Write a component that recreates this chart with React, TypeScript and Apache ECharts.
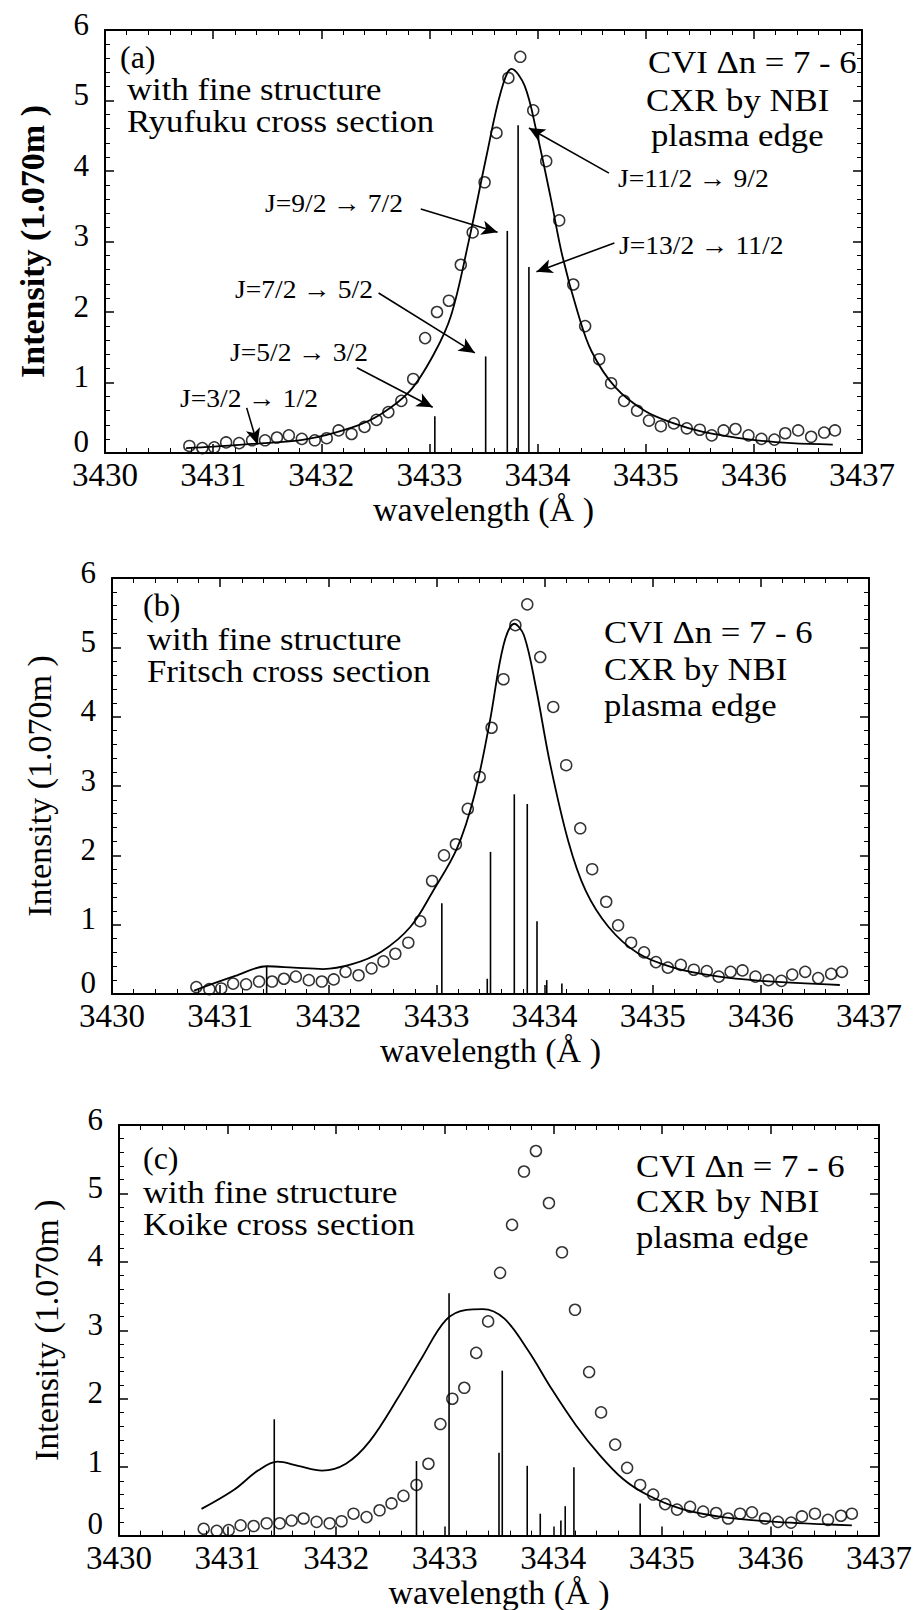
import React, { useEffect, useRef } from "react";
import * as echarts from "echarts";

// ---------- data ----------
const obsWavelength = [
  3430.78, 3430.9, 3431.01, 3431.12, 3431.24, 3431.36, 3431.48, 3431.59, 3431.7, 3431.82,
  3431.94, 3432.05, 3432.16, 3432.28, 3432.4, 3432.51, 3432.62, 3432.74, 3432.85, 3432.96,
  3433.07, 3433.18, 3433.29, 3433.4, 3433.51, 3433.62, 3433.73, 3433.84, 3433.96, 3434.08,
  3434.2, 3434.33, 3434.44, 3434.57, 3434.68, 3434.8, 3434.92, 3435.03, 3435.14, 3435.26,
  3435.38, 3435.5, 3435.61, 3435.72, 3435.83, 3435.95, 3436.07, 3436.19, 3436.29, 3436.41,
  3436.53, 3436.65, 3436.75,
];
const obsIntensity = [
  0.1, 0.07, 0.08, 0.15, 0.14, 0.18, 0.18, 0.22, 0.25, 0.2,
  0.18, 0.21, 0.32, 0.27, 0.37, 0.47, 0.58, 0.74, 1.05, 1.63,
  2.0, 2.16, 2.67, 3.13, 3.84, 4.54, 5.32, 5.62, 4.86, 4.14,
  3.3, 2.39, 1.8, 1.33, 0.99, 0.74, 0.6, 0.46, 0.38, 0.42,
  0.35, 0.33, 0.25, 0.32, 0.34, 0.25, 0.2, 0.19, 0.28, 0.32,
  0.23, 0.29, 0.32,
];

// model curves [wavelength, intensity]
const curveRyufuku = [
  [3430.75, 0.07], [3431.0, 0.09], [3431.36, 0.13], [3431.84, 0.19], [3432.28, 0.36],
  [3432.55, 0.55], [3432.82, 0.88], [3433.04, 1.4], [3433.2, 1.95], [3433.36, 2.98],
  [3433.53, 4.23], [3433.66, 5.12], [3433.76, 5.45], [3433.88, 5.21], [3433.99, 4.56],
  [3434.12, 3.63], [3434.23, 2.79], [3434.37, 2.0], [3434.5, 1.44], [3434.72, 0.93],
  [3434.99, 0.6], [3435.26, 0.42], [3435.53, 0.3], [3435.97, 0.19], [3436.35, 0.14],
  [3436.73, 0.12],
];
const curveFritsch = [
  [3430.76, 0.05], [3431.14, 0.26], [3431.43, 0.4], [3431.68, 0.38], [3431.95, 0.36],
  [3432.22, 0.43], [3432.49, 0.61], [3432.76, 0.97], [3432.97, 1.49], [3433.19, 2.1],
  [3433.35, 2.86], [3433.49, 3.9], [3433.62, 5.03], [3433.72, 5.34], [3433.81, 5.17],
  [3433.92, 4.42], [3434.05, 3.33], [3434.22, 2.2], [3434.38, 1.49], [3434.59, 0.97],
  [3434.86, 0.59], [3435.19, 0.38], [3435.57, 0.26], [3436.0, 0.19], [3436.73, 0.13],
];
const curveKoike = [
  [3430.76, 0.39], [3431.06, 0.67], [3431.28, 0.95], [3431.46, 1.08], [3431.65, 1.02],
  [3431.87, 0.95], [3432.09, 1.05], [3432.31, 1.38], [3432.58, 2.04], [3432.79, 2.6],
  [3433.01, 3.15], [3433.2, 3.3], [3433.35, 3.31], [3433.55, 3.17], [3433.77, 2.7],
  [3433.99, 2.13], [3434.21, 1.61], [3434.42, 1.19], [3434.64, 0.83], [3434.86, 0.6],
  [3435.18, 0.39], [3435.56, 0.27], [3436.05, 0.2], [3436.75, 0.15],
];

// fine-structure component lines [wavelength, intensity]
const sticksRyufuku = [
  [3433.05, 0.52], [3433.52, 1.37], [3433.72, 3.15], [3433.82, 4.65], [3433.92, 2.64],
];
const sticksFritsch = [
  [3431.43, 0.4], [3433.05, 1.31], [3433.47, 0.22], [3433.5, 2.05], [3433.72, 2.88],
  [3433.84, 2.74], [3433.93, 1.05], [3434.02, 0.2], [3434.16, 0.15],
];
const sticksKoike = [
  [3431.43, 1.7], [3432.74, 1.09], [3433.04, 3.54], [3433.5, 1.21], [3433.53, 2.41],
  [3433.76, 1.02], [3433.88, 0.32], [3434.07, 0.22], [3434.11, 0.43], [3434.19, 1.0],
  [3434.8, 0.47],
];

// transition labels and arrows for panel (a)
const transitionLabels = [
  "J=3/2 \u2192 1/2",
  "J=5/2 \u2192 3/2",
  "J=7/2 \u2192 5/2",
  "J=9/2 \u2192 7/2",
  "J=11/2 \u2192 9/2",
  "J=13/2 \u2192 11/2",
];
const arrowFrom = [
  [3431.31, 0.64], [3432.33, 1.21], [3432.53, 2.27], [3432.92, 3.46], [3434.66, 3.97], [3434.71, 2.98],
];
const arrowTo = [
  [3431.41, 0.12], [3433.03, 0.65], [3433.42, 1.42], [3433.63, 3.13], [3433.92, 4.61], [3433.99, 2.57],
];

const panelTags = ["(a)", "(b)", "(c)"];
const crossSections = ["Ryufuku cross section", "Fritsch cross section", "Koike cross section"];
const infoLines = ["CVI \u0394n = 7 - 6", "CXR by NBI", "plasma edge"];
const xTitle = "wavelength (\u00c5 )";
const yTitle = "Intensity (1.070m )";

// ---------- layout ----------
const SERIF = "Liberation Serif";
const grids = [
  { left: 105, top: 30, width: 757, height: 423 },
  { left: 112, top: 578, width: 757, height: 416 },
  { left: 119, top: 1125, width: 760, height: 415 },
];
// text positions (left, center-y)
const tagPos = [[120, 57], [143, 605], [143, 1158]];
const leftBlock = [
  [[127, 90], [127, 122]],
  [[147, 640], [147, 672]],
  [[143, 1193], [143, 1225]],
];
const rightBlock = [
  [[648, 63], [646, 101], [651, 136]],
  [[604, 633], [604, 670], [604, 706]],
  [[636, 1167], [636, 1202], [636, 1238]],
];
const labelPos = [[180, 398], [230, 352], [235, 289], [265, 203], [618, 178], [619, 245]];

function App() {
  const ref = useRef<HTMLDivElement>(null);

  useEffect(() => {
    if (!ref.current) return;
    const chart = echarts.init(ref.current, null, { renderer: "svg" });

    const xAxes: any[] = [];
    const yAxes: any[] = [];
    grids.forEach((g, i) => {
      const common = {
        gridIndex: i,
        type: "value",
        splitLine: { show: false },
        axisLine: { show: true, onZero: false, lineStyle: { color: "#000", width: 2 } },
        axisTick: { show: true, inside: true, length: 9, lineStyle: { color: "#000", width: 1.5 } },
        minorTick: { show: true, splitNumber: 5, length: 5, lineStyle: { color: "#000", width: 1 } },
      };
      xAxes.push({
        ...common,
        position: "bottom",
        min: 3430,
        max: 3437,
        interval: 1,
        axisLabel: {
          color: "#000",
          fontFamily: SERIF,
          fontSize: 33,
          lineHeight: 24,
          margin: 10,
          formatter: (v: number) => String(v),
        },
        name: xTitle,
        nameLocation: "middle",
        nameGap: 36,
        nameTextStyle: { color: "#000", fontFamily: SERIF, fontSize: 34, lineHeight: 30 },
      });
      xAxes.push({
        ...common,
        position: "top",
        min: 3430,
        max: 3437,
        interval: 1,
        axisLabel: { show: false },
      });
      yAxes.push({
        ...common,
        position: "left",
        min: 0,
        max: 6,
        interval: 1,
        axisLabel: {
          color: "#000",
          fontFamily: SERIF,
          fontSize: 31,
          lineHeight: 12,
          verticalAlign: "bottom",
          margin: 16,
          formatter: (v: number) => (v === 0 ? "{z|0}" : String(v)),
          rich: {
            z: {
              color: "#000",
              fontFamily: SERIF,
              fontSize: 31,
              lineHeight: 12,
              padding: [0, 0, 12, 0],
            },
          },
        },
        name: yTitle,
        nameLocation: "middle",
        nameRotate: 90,
        nameGap: 56,
        nameTextStyle: {
          color: "#000",
          fontFamily: SERIF,
          fontSize: 34,
          fontWeight: i === 0 ? "bold" : "normal",
        },
      });
      yAxes.push({
        ...common,
        position: "right",
        min: 0,
        max: 6,
        interval: 1,
        axisLabel: { show: false },
      });
    });

    const curves = [curveRyufuku, curveFritsch, curveKoike];
    const sticks = [sticksRyufuku, sticksFritsch, sticksKoike];
    const obs = obsWavelength.map((w, k) => [w, obsIntensity[k]]);

    const series: any[] = [];
    grids.forEach((_, i) => {
      const axisRef = { xAxisIndex: i * 2, yAxisIndex: i * 2 };
      series.push({
        type: "custom",
        ...axisRef,
        silent: true,
        data: sticks[i],
        encode: { x: 0, y: 1 },
        renderItem: (params: any, api: any) => {
          const x = api.value(0);
          const h = api.value(1);
          const p0 = api.coord([x, 0]);
          const p1 = api.coord([x, h]);
          return {
            type: "line",
            shape: { x1: p0[0], y1: p0[1], x2: p1[0], y2: p1[1] },
            style: { stroke: "#000", lineWidth: 1.6 },
          };
        },
      });
      const line: any = {
        type: "line",
        ...axisRef,
        data: curves[i],
        smooth: 0.35,
        showSymbol: false,
        silent: true,
        lineStyle: { color: "#000", width: 1.8 },
      };
      if (i === 0) {
        line.markLine = {
          silent: true,
          symbol: ["none", "arrow"],
          symbolSize: [11, 16],
          label: { show: false },
          lineStyle: { color: "#000", width: 1.6, type: "solid" },
          emphasis: { disabled: true },
          data: arrowFrom.map((f, k) => [{ coord: f }, { coord: arrowTo[k] }]),
        };
      }
      series.push(line);
      series.push({
        type: "scatter",
        ...axisRef,
        data: obs,
        symbol: "circle",
        symbolSize: 11,
        silent: true,
        itemStyle: { color: "rgba(255,255,255,0)", borderColor: "#000", borderWidth: 1.5 },
      });
    });

    const graphics: any[] = [];
    const addText = (text: string, x: number, y: number, size: number, sx = 1.12) => {
      graphics.push({
        type: "text",
        x,
        y,
        scaleX: sx,
        silent: true,
        style: {
          text,
          fill: "#000",
          fontFamily: SERIF,
          fontSize: size,
          align: "left",
          verticalAlign: "middle",
        },
      });
    };
    grids.forEach((_, i) => {
      addText(panelTags[i], tagPos[i][0], tagPos[i][1], 32, 1.0);
      addText("with fine structure", leftBlock[i][0][0], leftBlock[i][0][1], 31);
      addText(crossSections[i], leftBlock[i][1][0], leftBlock[i][1][1], 31);
      infoLines.forEach((t, k) => addText(t, rightBlock[i][k][0], rightBlock[i][k][1], 31));
    });
    transitionLabels.forEach((t, k) => addText(t, labelPos[k][0], labelPos[k][1], 26, 1.06));

    chart.setOption({
      animation: false,
      backgroundColor: "#fff",
      grid: grids.map((g) => ({ ...g, containLabel: false })),
      xAxis: xAxes,
      yAxis: yAxes,
      series,
      graphic: graphics,
    });

    return () => chart.dispose();
  }, []);

  return (
    <div
      ref={ref}
      style={{ position: "absolute", left: 0, top: 0, width: 917, height: 1610, background: "#fff" }}
    />
  );
}

export default App;
